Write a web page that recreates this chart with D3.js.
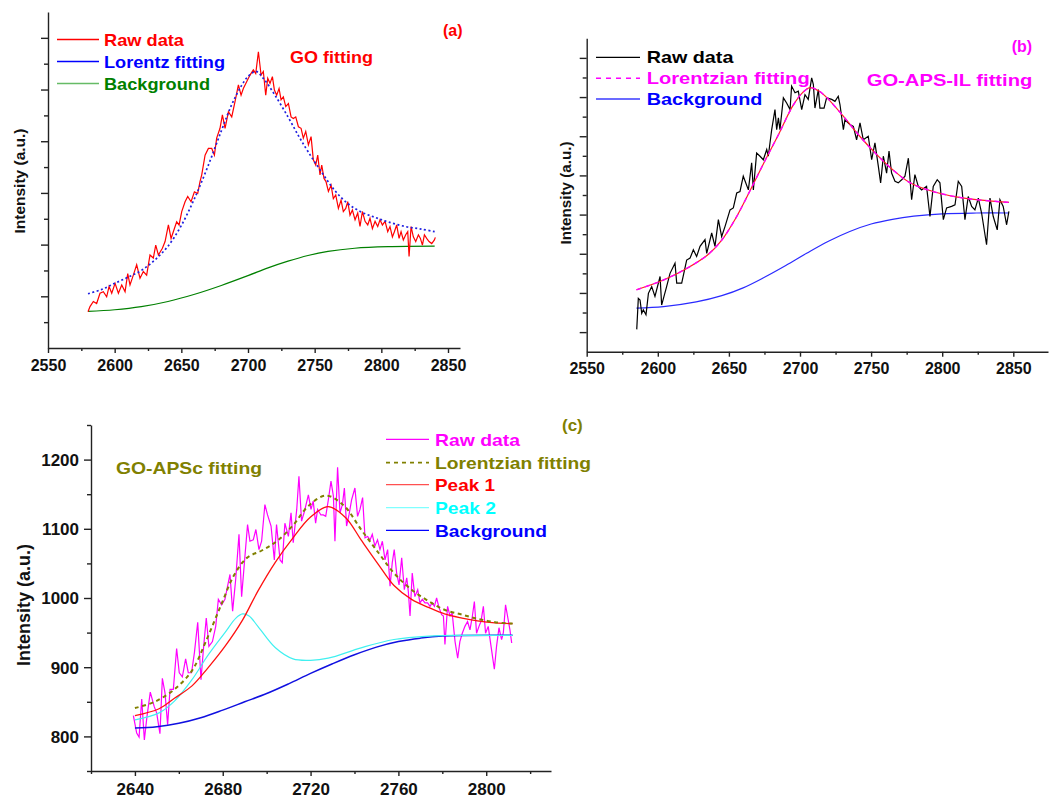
<!DOCTYPE html>
<html>
<head>
<meta charset="utf-8">
<script src="https://cdn.jsdelivr.net/npm/d3@7"></script>
<style>
    body { margin: 0; background: #fff; }
    svg text { font-family: "Liberation Sans", Arial, sans-serif; font-weight: bold; }
    .axis path, .axis line { stroke: #222; stroke-width: 1.4; }
    .axis text { fill: #111; }
</style>
</head>
<body>
<svg id="chart" width="1051" height="800"></svg>
<script>
// ---------- (a) GO ----------
var rawA = [[2580,0.70],[2581.5,0.80],[2584,0.90],[2586.5,0.86],[2589,1.06],[2591.5,1.09],[2594,0.99],[2595.8,1.19],[2597.8,1.06],
    [2600.3,1.25],[2602.8,1.06],[2605.3,1.22],[2607.8,1.09],[2609.8,1.44],[2611.5,1.22],[2614,1.41],[2616.5,1.61],[2619,1.35],
    [2621.5,1.48],[2624,1.41],[2626.5,1.80],[2629,1.74],[2630.8,1.99],[2632.8,1.80],[2635.8,1.93],[2637.8,2.06],[2640.3,2.38],
    [2642.3,2.12],[2644,2.25],[2646.5,2.44],[2648.3,2.38],[2650.3,2.64],[2652.8,2.83],[2654.8,2.93],[2657.3,2.83],[2659.8,3.02],
    [2662.3,2.99],[2664,3.22],[2665.3,3.35],[2667.8,3.73],[2670.3,3.86],[2672.8,3.86],[2674.8,3.73],[2676.5,4.06],[2679,4.25],
    [2680.8,4.51],[2682.8,4.25],[2685.3,4.57],[2687.8,4.47],[2690.3,4.77],[2692.8,5.09],[2694.8,4.89],[2696.5,5.02],[2699,5.15],
    [2701.5,5.28],[2704,5.38],[2705.8,5.31],[2707.8,5.73],[2709.8,5.28],[2711.5,5.35],[2713.3,4.89],[2714.8,5.22],[2716.5,5.12],
    [2718.3,5.25],[2719.8,4.99],[2721.5,4.89],[2723.3,5.02],[2724.8,4.80],[2726.5,4.86],[2728.3,4.67],[2730.3,4.73],[2732.3,4.47],
    [2734,4.44],[2735.8,4.47],[2737.8,4.28],[2739.8,4.25],[2741.5,4.06],[2743.3,4.19],[2745.3,3.93],[2747.3,4.09],[2749,3.64],
    [2750.8,3.54],[2752.3,3.73],[2754,3.35],[2755.3,3.54],[2757,3.28],[2758.5,3.22],[2760.3,3.03],[2762.3,3.15],[2764,2.89],
    [2765.8,2.96],[2767.8,2.70],[2769.8,2.86],[2771.5,2.64],[2773.3,2.70],[2774.8,2.83],[2776.5,2.57],[2778.3,2.67],[2780.3,2.48],
    [2782.3,2.61],[2784,2.35],[2785.8,2.64],[2787.8,2.45],[2789.8,2.38],[2791.5,2.51],[2793.3,2.31],[2795.3,2.45],[2797.3,2.35],
    [2799,2.48],[2800.8,2.38],[2802.8,2.45],[2804.8,2.25],[2806.5,2.35],[2808.3,2.15],[2809.8,2.25],[2811.5,2.38],[2813.3,2.12],
    [2814.8,2.25],[2816.5,2.09],[2818.3,2.19],[2819.8,2.25],[2820.8,1.77],[2822.3,2.35],[2824,2.15],[2825.8,2.06],[2827.8,2.19],
    [2829.3,2.12],[2830.8,1.99],[2832.3,2.19],[2834,2.12],[2835.8,2.06],[2837.8,2.02],[2839.8,2.09],[2840.5,2.14]];
var lorentzA = [[2580,1.05],[2590,1.13],[2600,1.25],[2610,1.37],[2620,1.50],[2630,1.70],[2640,1.97],[2650,2.37],[2660,2.90],
    [2670,3.52],[2680,4.20],[2688,4.72],[2695,5.07],[2700,5.25],[2706,5.35],[2712,5.20],[2720,4.90],[2730,4.47],[2738,4.10],
    [2745,3.80],[2755,3.41],[2765,3.05],[2775,2.79],[2785,2.63],[2795,2.53],[2805,2.44],[2818,2.35],[2830,2.30],[2840,2.25]];
var bgA = [[2580,0.71],[2600,0.74],[2620,0.80],[2640,0.90],[2660,1.04],[2680,1.21],[2700,1.40],[2715,1.55],[2730,1.68],
    [2745,1.79],[2760,1.87],[2780,1.93],[2805,1.96],[2840,1.97]];

// ---------- (b) GO-APS-IL ----------
var rawB = [[2585.2,0.57],[2586.3,1.36],[2587.5,1.32],[2588.7,0.98],[2589.8,1.07],[2591.7,0.94],[2593.4,1.49],[2595.7,1.66],
    [2598.0,1.41],[2601.6,1.92],[2602.7,1.19],[2606.2,1.66],[2608.6,2.00],[2612.1,2.26],[2613.3,1.75],[2616.8,1.75],[2620.3,2.34],
    [2622.7,2.39],[2625.0,2.60],[2627.3,2.43],[2629.7,2.69],[2633.2,2.86],[2634.4,2.51],[2637.9,3.03],[2640.2,2.69],[2642.6,3.37],
    [2644.9,2.94],[2647.3,3.20],[2650.8,3.62],[2653.1,3.67],[2655.5,4.05],[2657.8,4.09],[2660.1,4.48],[2663.7,4.13],[2666.0,4.82],
    [2667.2,4.13],[2669.5,5.07],[2671.9,4.99],[2674.2,4.90],[2676.6,5.16],[2677.7,4.99],[2680.1,5.67],[2682.4,6.18],[2683.6,5.67],
    [2684.8,5.97],[2685.9,5.67],[2688.3,6.48],[2690.6,6.35],[2693.0,6.18],[2694.1,6.78],[2696.5,6.61],[2698.8,6.65],[2701.2,6.18],
    [2703.5,6.56],[2705.8,6.44],[2708.2,6.99],[2709.4,6.82],[2710.5,6.22],[2712.9,6.69],[2714.0,6.22],[2716.9,6.22],[2718.7,6.48],
    [2722.3,6.44],[2724.6,6.39],[2726.9,6.52],[2728.1,6.31],[2730.5,5.67],[2731.6,5.92],[2735.1,5.80],[2737.5,5.75],[2739.8,5.41],
    [2742.2,5.84],[2744.5,5.41],[2748.0,5.50],[2750.4,4.90],[2752.7,5.33],[2755.1,4.73],[2756.7,4.31],[2758.6,4.99],[2760.9,4.56],
    [2762.6,5.12],[2764.4,4.56],[2766.8,4.35],[2769.1,4.31],[2771.5,4.39],[2773.8,4.48],[2776.2,4.94],[2778.5,3.88],[2780.8,4.52],
    [2783.2,4.22],[2785.5,4.13],[2789.0,4.22],[2791.4,3.45],[2793.7,4.22],[2796.5,4.39],[2798.4,4.31],[2800.8,3.37],[2803.1,3.67],
    [2806.6,3.71],[2809.0,3.75],[2811.3,4.35],[2813.7,4.22],[2816.0,3.37],[2818.3,3.96],[2820.7,3.71],[2823.0,3.62],[2825.4,3.92],
    [2827.7,3.54],[2831.2,2.73],[2833.6,3.92],[2835.9,3.45],[2838.7,3.11],[2840.6,3.88],[2842.9,3.71],[2845.3,3.24],[2846.9,3.58]];
var lorentzB = [[2585,1.58],[2604,1.83],[2620,2.12],[2635,2.47],[2645,2.85],[2655,3.42],[2665,4.12],[2675,4.85],[2685,5.55],
    [2695,6.28],[2702,6.62],[2707,6.74],[2713,6.66],[2719,6.48],[2730,6.03],[2742,5.50],[2754,5.03],[2766,4.62],[2777,4.32],
    [2789,4.14],[2801,4.02],[2812,3.94],[2824,3.88],[2847,3.81]];
var bgB = [[2585,1.11],[2604,1.15],[2627,1.27],[2645,1.43],[2660,1.63],[2675,1.90],[2690,2.20],[2705,2.52],[2720,2.82],
    [2735,3.07],[2750,3.26],[2765,3.38],[2780,3.46],[2800,3.52],[2824,3.54],[2847,3.54]];

// ---------- (c) GO-APSc ----------
var rawC = [[2639.3,830],[2640.8,805],[2641.9,799],[2643.1,854],[2644.3,795],[2645.5,829],[2647.0,864],[2648.8,843],[2649.9,834],
    [2651.4,804],[2652.5,884],[2653.7,863],[2654.9,817],[2656.0,868],[2657.5,868],[2659.0,927],[2660.2,892],[2661.6,886],
    [2663.1,912],[2664.3,892],[2665.8,892],[2667.1,921],[2668.6,965],[2670.1,882],[2671.3,930],[2672.5,971],[2673.7,930],
    [2675.3,937],[2676.8,959],[2678.0,998],[2679.5,990],[2681.0,998],[2682.2,1017],[2683.3,1034],[2684.5,981],[2685.9,1027],
    [2687.4,1092],[2688.6,1002],[2690.1,1060],[2691.3,1106],[2692.4,1082],[2693.9,1084],[2695.1,1099],[2696.5,1070],[2697.7,1082],
    [2699.2,1135],[2700.4,1120],[2702.0,1104],[2703.5,1055],[2704.5,1106],[2706.1,1055],[2707.1,1051],[2708.3,1108],[2709.9,1089],
    [2711.1,1123],[2712.1,1080],[2713.7,1128],[2714.7,1176],[2715.9,1111],[2717.2,1125],[2719.0,1149],[2720.2,1128],[2721.2,1140],
    [2722.3,1108],[2723.2,1128],[2724.7,1120],[2725.8,1120],[2726.9,1118],[2728.1,1142],[2729.3,1169],[2730.4,1147],[2731.1,1082],
    [2732.3,1189],[2733.4,1123],[2734.5,1135],[2735.4,1159],[2736.4,1104],[2737.5,1120],[2738.7,1142],[2740.2,1159],[2741.4,1118],
    [2742.5,1128],[2743.7,1145],[2744.8,1087],[2746.0,1089],[2747.1,1084],[2748.1,1092],[2749.3,1075],[2750.5,1084],[2751.6,1070],
    [2752.7,1082],[2753.9,1055],[2755.1,1070],[2756.2,1017],[2757.2,1051],[2758.1,1070],[2759.2,1036],[2760.3,1019],[2761.5,1058],
    [2762.7,1012],[2763.8,1029],[2764.5,1010],[2765.3,974],[2766.3,1036],[2767.5,1002],[2768.8,1012],[2769.8,993],[2770.9,998],
    [2772.1,993],[2773.3,993],[2774.4,988],[2775.4,993],[2776.4,988],[2777.4,1000],[2778.5,986],[2779.7,976],[2780.5,974],
    [2781.2,933],[2782.4,988],[2783.5,974],[2784.5,978],[2785.8,937],[2787.0,913],[2788.0,937],[2789.1,949],[2790.3,959],
    [2791.5,966],[2792.6,954],[2793.7,974],[2794.6,995],[2795.6,949],[2796.7,959],[2797.6,966],[2798.7,988],[2799.7,949],
    [2800.9,959],[2802.2,930],[2803.7,897],[2804.7,930],[2805.8,957],[2807.0,940],[2807.8,950],[2808.8,990],[2809.7,974],
    [2810.8,954],[2811.6,935]];
var lorentzC = [[2640,841],[2649,850],[2658,868],[2666,895],[2672,935],[2679,988],[2685,1032],[2691,1058],[2698,1069],
    [2705,1083],[2712,1105],[2719,1133],[2727,1148],[2735,1134],[2743,1099],[2751,1065],[2758,1036],[2766,1012],[2774,995],
    [2781,983],[2789,976],[2796,970],[2804,965],[2812,963]];
var peak1C = [[2640,830],[2651,840],[2658,855],[2666,873],[2673,898],[2681,930],[2689,968],[2696,1010],[2704,1052],[2712,1087],
    [2720,1117],[2728,1132],[2736,1116],[2743,1084],[2751,1048],[2758,1018],[2766,998],[2774,986],[2781,977],[2789,971],
    [2796,967],[2804,964],[2812,963]];
var peak2C = [[2640,824],[2651,834],[2658,851],[2666,882],[2673,916],[2681,950],[2686,971],[2689,977],[2692,974],[2696,959],
    [2704,928],[2712,912],[2720,910],[2728,913],[2743,928],[2758,940],[2774,945],[2789,946],[2812,946]];
var bgC = [[2640,812],[2650,814],[2660,819],[2670,827],[2680,838],[2690,850],[2700,862],[2710,876],[2720,891],[2730,905],
    [2740,918],[2750,929],[2760,937],[2770,942],[2780,945],[2812,946]];

// tick values
var ticksA = { xMajor: [2550, 2600, 2650, 2700, 2750, 2800, 2850], xMinor: [2575, 2625, 2675, 2725, 2775, 2825],
    yMajor: [1, 2, 3, 4, 5, 6], yMinor: [0.5, 1.5, 2.5, 3.5, 4.5, 5.5] };
var ticksB = { xMajor: [2550, 2600, 2650, 2700, 2750, 2800, 2850], xMinor: [2575, 2625, 2675, 2725, 2775, 2825],
    yMajor: [0.5, 1.5, 2.5, 3.5, 4.5, 5.5, 6.5, 7.5], yMinor: [1, 2, 3, 4, 5, 6, 7] };
var ticksC = { xMajor: [2640, 2680, 2720, 2760, 2800], xMinor: [2620, 2660, 2700, 2740, 2780, 2820],
    yMajor: [800, 900, 1000, 1100, 1200], yMinor: [750, 850, 950, 1050, 1150, 1250] };

var svg = d3.select("#chart");

function drawPanel(p) {
    var x = d3.scaleLinear().domain(p.xDomain).range([p.left, p.right]);
    var y = d3.scaleLinear().domain(p.yDomain).range([p.bottom, p.top]);
    var g = svg.append("g");

    // minor ticks first, then major axes with the line
    g.append("g").attr("class", "axis")
        .attr("transform", "translate(0," + p.bottom + ")")
        .call(d3.axisBottom(x).tickValues(p.ticks.xMinor).tickSize(3).tickFormat(""))
        .call(function (s) { s.select(".domain").remove(); });
    g.append("g").attr("class", "axis")
        .attr("transform", "translate(" + p.left + ",0)")
        .call(d3.axisLeft(y).tickValues(p.ticks.yMinor).tickSize(4).tickFormat(""))
        .call(function (s) { s.select(".domain").remove(); });

    var xa = g.append("g").attr("class", "axis")
        .attr("transform", "translate(0," + p.bottom + ")")
        .call(d3.axisBottom(x).tickValues(p.ticks.xMajor).tickSize(5).tickSizeOuter(0)
            .tickPadding(p.xPad).tickFormat(d3.format("d")));
    xa.selectAll("text").style("font-size", p.tickFont + "px");

    var ya = g.append("g").attr("class", "axis")
        .attr("transform", "translate(" + p.left + ",0)")
        .call(d3.axisLeft(y).tickValues(p.ticks.yMajor).tickSize(7).tickSizeOuter(0)
            .tickPadding(5).tickFormat(p.yLabels ? d3.format("d") : ""));
    ya.selectAll("text").style("font-size", p.tickFont + "px").attr("dy", "0.35em");

    // curves: raw data straight segments, fits smooth
    p.series.forEach(function (s) {
        var line = d3.line()
            .x(function (d) { return x(d[0]); })
            .y(function (d) { return y(d[1]); })
            .curve(s.smooth ? d3.curveCatmullRom.alpha(0.5) : d3.curveLinear);
        g.append("path")
            .attr("d", line(s.data))
            .attr("fill", "none")
            .attr("stroke", s.color)
            .attr("stroke-width", s.width)
            .attr("stroke-dasharray", s.dash || null);
    });

    // y title
    g.append("text")
        .attr("transform", "translate(" + p.yTitle.x + "," + p.yTitle.y + ") rotate(-90)")
        .attr("text-anchor", "middle")
        .style("font-size", p.yTitle.size + "px")
        .attr("fill", "#111")
        .text("Intensity (a.u.)");

    // legend
    p.legend.forEach(function (l, i) {
        var by = p.legendY[i];
        g.append("line")
            .attr("x1", p.legendX[0]).attr("x2", p.legendX[1])
            .attr("y1", by - p.legendLift).attr("y2", by - p.legendLift)
            .attr("stroke", l.lineColor)
            .attr("stroke-width", l.lineWidth || 1.3)
            .attr("stroke-dasharray", l.dash || null);
        g.append("text")
            .attr("x", p.legendX[2]).attr("y", by)
            .attr("fill", l.color)
            .style("font-size", p.legendFont + "px")
            .attr("textLength", l.len).attr("lengthAdjust", "spacingAndGlyphs")
            .text(l.name);
    });

    // free labels
    p.notes.forEach(function (n) {
        g.append("text")
            .attr("x", n.x).attr("y", n.y)
            .attr("fill", n.color)
            .style("font-size", n.size + "px")
            .attr("textLength", n.len || null).attr("lengthAdjust", "spacingAndGlyphs")
            .text(n.text);
    });
}

drawPanel({
    xDomain: [2550, 2859], yDomain: [0, 6.5],
    left: 48, right: 460, top: 12, bottom: 348,
    ticks: ticksA, xPad: 7, tickFont: 16, yLabels: false,
    series: [
        { data: bgA, color: "#008000", width: 1.2, smooth: true },
        { data: rawA, color: "#ff0000", width: 1.2 },
        { data: lorentzA, color: "#1f1fe0", width: 1.7, dash: "2,2.5", smooth: true }
    ],
    yTitle: { x: 25, y: 181, size: 15.5 },
    legendX: [57, 99, 104], legendY: [46, 68, 90], legendLift: 6.5, legendFont: 17,
    legend: [
        { name: "Raw data", color: "#ff0000", lineColor: "#ff0000", len: 80 },
        { name: "Lorentz fitting", color: "#0000ff", lineColor: "#0000ff", len: 121 },
        { name: "Background", color: "#008000", lineColor: "#66bb66", len: 106 }
    ],
    notes: [
        { text: "GO fitting", x: 290, y: 62.5, color: "#ff0000", size: 17, len: 83 },
        { text: "(a)", x: 443, y: 36, color: "#ff0000", size: 16 }
    ]
});

drawPanel({
    xDomain: [2550, 2874.4], yDomain: [0, 8],
    left: 586.7, right: 1048, top: 38.3, bottom: 351.7,
    ticks: ticksB, xPad: 6, tickFont: 16, yLabels: false,
    series: [
        { data: bgB, color: "#2a2aff", width: 1.2, smooth: true },
        { data: rawB, color: "#000000", width: 1.2 },
        { data: lorentzB, color: "#ff2020", width: 1.2, smooth: true },
        { data: lorentzB, color: "#ff00ff", width: 1.4, dash: "5,4", smooth: true }
    ],
    yTitle: { x: 571, y: 193, size: 15.2 },
    legendX: [596, 640, 646.7], legendY: [63.3, 84.3, 105], legendLift: 6, legendFont: 17,
    legend: [
        { name: "Raw data", color: "#000000", lineColor: "#000000", len: 86.7 },
        { name: "Lorentzian fitting", color: "#ff00ff", lineColor: "#ff00ff", dash: "5,5", lineWidth: 1.5, len: 163 },
        { name: "Background", color: "#0000ff", lineColor: "#3a3aff", len: 115.7 }
    ],
    notes: [
        { text: "GO-APS-IL fitting", x: 866.7, y: 85.7, color: "#ff00ff", size: 17, len: 165.7 },
        { text: "(b)", x: 1011.7, y: 52, color: "#ff00ff", size: 16 }
    ]
});

drawPanel({
    xDomain: [2620, 2829.5], yDomain: [750, 1250],
    left: 91, right: 551, top: 425, bottom: 771,
    ticks: ticksC, xPad: 7, tickFont: 17, yLabels: true,
    series: [
        { data: rawC, color: "#ff00ff", width: 1.2 },
        { data: bgC, color: "#1010e0", width: 1.5, smooth: true },
        { data: peak2C, color: "#40f0f0", width: 1.2, smooth: true },
        { data: peak1C, color: "#ff1010", width: 1.3, smooth: true },
        { data: lorentzC, color: "#808000", width: 2, dash: "4,3.5", smooth: true }
    ],
    yTitle: { x: 30, y: 605, size: 18 },
    legendX: [386, 429, 435], legendY: [445.7, 469, 491, 514, 536.7], legendLift: 6.3, legendFont: 17,
    legend: [
        { name: "Raw data", color: "#ff00ff", lineColor: "#ff00ff", len: 85 },
        { name: "Lorentzian fitting", color: "#808000", lineColor: "#808000", dash: "4,4", lineWidth: 1.8, len: 156 },
        { name: "Peak 1", color: "#ff0000", lineColor: "#ff5050", len: 60 },
        { name: "Peak 2", color: "#00ffff", lineColor: "#80ffff", len: 61 },
        { name: "Background", color: "#0000ff", lineColor: "#0000ff", len: 112 }
    ],
    notes: [
        { text: "GO-APSc fitting", x: 116, y: 474, color: "#808000", size: 17, len: 146 },
        { text: "(c)", x: 562, y: 431, color: "#808000", size: 17 }
    ]
});
</script>
</body>
</html>
